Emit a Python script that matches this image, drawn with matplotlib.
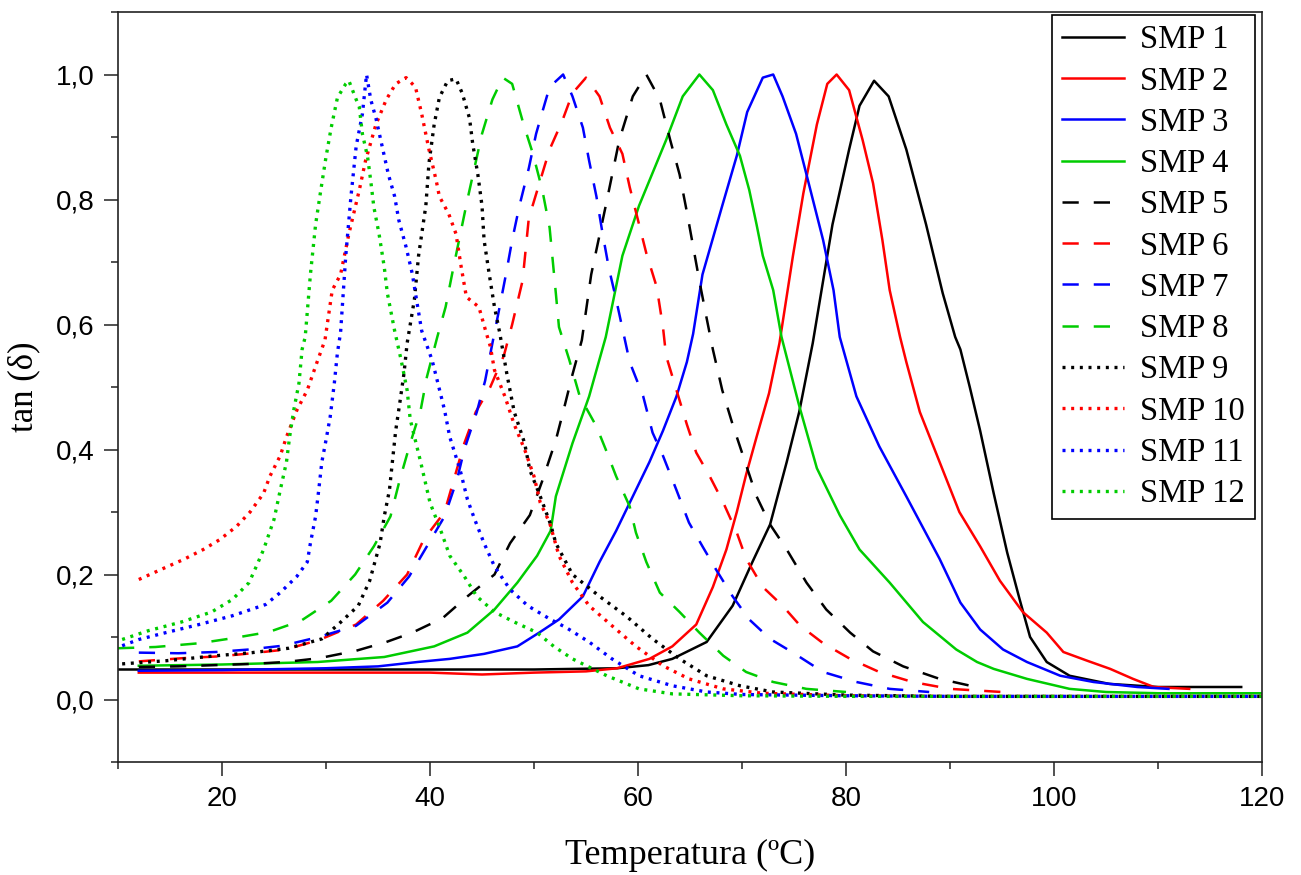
import matplotlib
matplotlib.use("Agg")
import matplotlib.pyplot as plt
from matplotlib.ticker import MultipleLocator, FuncFormatter

# ----------------
# Data (tan delta vs temperature)
# ----------------

smp1_x = [10, 20, 30, 40, 50, 58, 61, 63.3, 66.6, 69.1, 71, 72.7, 74.3, 75.5, 76.8, 78.7, 80.3, 81.3,
          82.7, 84.1, 85.8, 87.7, 89.3, 90.5, 91, 91.9, 92.9, 94.2, 95.5, 96.7, 97.7, 99.3, 101.5,
          105.3, 110, 118]
smp1_y = [0.048, 0.048, 0.048, 0.048, 0.048, 0.05, 0.055, 0.065, 0.092, 0.15, 0.22, 0.28, 0.38, 0.46,
          0.57, 0.76, 0.88, 0.95, 0.99, 0.965, 0.88, 0.76, 0.65, 0.58, 0.56, 0.5, 0.43, 0.33, 0.235,
          0.16, 0.1, 0.06, 0.038, 0.025, 0.02, 0.02]

smp2_x = [12, 20, 30, 40, 45, 50, 55, 58, 61.1, 63.3, 65.6, 67.2, 68.5, 69.5, 70.4, 71.4, 72.6, 73.6,
          74.9, 75.9, 77.2, 78.2, 79.1, 80.3, 81.6, 82.6, 83.5, 84.2, 85.2, 85.8, 87.1, 89, 90.9,
          92.9, 94.8, 97, 99.3, 100.9, 103.2, 105.4, 107.6, 109.6, 113]
smp2_y = [0.043, 0.043, 0.043, 0.043, 0.04, 0.043, 0.045, 0.05, 0.065, 0.085, 0.12, 0.18, 0.24, 0.3,
          0.36, 0.42, 0.49, 0.57, 0.71, 0.81, 0.92, 0.985, 1.0, 0.975, 0.895, 0.826, 0.735, 0.655,
          0.58, 0.54, 0.46, 0.38, 0.3, 0.245, 0.19, 0.14, 0.107, 0.076, 0.062, 0.049, 0.033, 0.02,
          0.017]

smp3_x = [12, 20, 30, 35, 38.8, 41.9, 45.2, 48.4, 50.5, 52.4, 54.7, 56.3, 57.9, 59.5, 61.1, 62.4,
          63.7, 64.7, 65.3, 66.2, 68.1, 69.5, 70.5, 72, 73, 73.9, 75.2, 76.2, 77.8, 78.8, 79.4, 81,
          83.2, 85.8, 89, 91, 92.9, 95.1, 97.4, 100.6, 103.8, 108, 111]
smp3_y = [0.046, 0.047, 0.05, 0.053, 0.06, 0.065, 0.073, 0.085, 0.107, 0.128, 0.165, 0.22, 0.27,
          0.325, 0.38, 0.43, 0.485, 0.54, 0.585, 0.68, 0.79, 0.87, 0.94, 0.995, 1.0, 0.965, 0.905,
          0.84, 0.735, 0.655, 0.58, 0.485, 0.405, 0.325, 0.225, 0.155, 0.112, 0.08, 0.06, 0.038,
          0.028, 0.02, 0.017]

smp4_x = [12, 20, 29.2, 35.6, 40.4, 43.6, 46.2, 48.4, 50.3, 51.6, 52.1, 53.7, 55.3, 56.9, 58.5,
          60.1, 62.7, 64.3, 65.9, 67.2, 68.5, 69.8, 70.7, 71.4, 72, 73, 73.8, 75.5, 77.2, 79.4, 81.3,
          84.2, 87.4, 90.6, 92.6, 94.2, 97.4, 101.5, 105, 110, 120]
smp4_y = [0.054, 0.056, 0.06, 0.068, 0.085, 0.107, 0.144, 0.187, 0.23, 0.27, 0.325, 0.41, 0.485,
          0.58, 0.71, 0.79, 0.895, 0.965, 1.0, 0.975, 0.92, 0.87, 0.815, 0.76, 0.71, 0.655, 0.58,
          0.47, 0.37, 0.295, 0.24, 0.187, 0.124, 0.08, 0.06, 0.049, 0.033, 0.017, 0.012, 0.01, 0.01]

smp5_x = [12, 15.8, 22.9, 26.1, 29.3, 32.9, 35.8, 38.3, 41.2, 43.6, 46.2, 47.7, 49.6, 50.8, 52.1,
          52.8, 53.7, 54.6, 55.5, 56.9, 58.2, 59.5, 60.8, 62.1, 63.1, 64, 64.7, 65.3, 65.9, 66.6,
          67.2, 68.1, 69.1, 70.1, 71.4, 72.7, 74.3, 76.2, 78.1, 80.4, 82.6, 85.5, 89, 92.5]
smp5_y = [0.052, 0.053, 0.057, 0.06, 0.066, 0.078, 0.092, 0.107, 0.13, 0.165, 0.2, 0.25, 0.295,
          0.35, 0.415, 0.46, 0.52, 0.575, 0.68, 0.79, 0.895, 0.965, 1.0, 0.96, 0.895, 0.84, 0.78,
          0.725, 0.67, 0.61, 0.56, 0.495, 0.44, 0.39, 0.325, 0.28, 0.24, 0.187, 0.144, 0.107,
          0.077, 0.053, 0.033, 0.02]

smp6_x = [12, 16.1, 19.7, 22.9, 26.1, 29.3, 32.9, 35.5, 37.8, 39.4, 41.4, 42.3, 43.3, 44.4, 45.8,
          47.1, 47.9, 48.9, 49.5, 50.5, 51.5, 52.7, 53.7, 55, 56.3, 57.3, 58.5, 59.2, 60.8, 61.8,
          62.4, 62.7, 63.7, 64.7, 65.6, 66.9, 68.2, 69.5, 70.4, 72, 73.9, 75.6, 77.8, 80.4, 83.2,
          86.4, 90, 95]
smp6_y = [0.061, 0.066, 0.069, 0.074, 0.08, 0.095, 0.12, 0.158, 0.2, 0.256, 0.3, 0.352, 0.41, 0.46,
          0.5, 0.55, 0.6, 0.67, 0.77, 0.825, 0.88, 0.925, 0.97, 0.995, 0.965, 0.915, 0.873, 0.82,
          0.714, 0.66, 0.596, 0.55, 0.495, 0.44, 0.395, 0.357, 0.315, 0.267, 0.225, 0.18, 0.15,
          0.118, 0.09, 0.065, 0.044, 0.028, 0.017, 0.012]

smp7_x = [12, 15.8, 19.4, 22.6, 25.8, 29.3, 32.9, 35.9, 38, 39.7, 41.4, 42.6, 43.3, 44.5, 45.3, 46,
          46.6, 47.3, 47.9, 48.6, 49.5, 50.2, 50.8, 51.5, 52.8, 53.7, 54.7, 55.3, 56, 56.6, 57.2,
          57.9, 59.2, 60.5, 61.4, 62.4, 63.7, 64.9, 66.2, 67.5, 69.1, 70.7, 72.7, 74.9, 77.8, 81,
          84.2, 88]
smp7_y = [0.075, 0.074, 0.076, 0.08, 0.086, 0.1, 0.118, 0.155, 0.197, 0.245, 0.293, 0.352, 0.4,
          0.46, 0.51, 0.57, 0.62, 0.68, 0.735, 0.79, 0.85, 0.905, 0.94, 0.98, 1.0, 0.965, 0.915,
          0.862, 0.805, 0.745, 0.69, 0.64, 0.54, 0.485, 0.427, 0.39, 0.335, 0.283, 0.245, 0.208,
          0.165, 0.128, 0.097, 0.075, 0.044, 0.028, 0.017, 0.012]

smp8_x = [10, 13.6, 17.8, 21, 24.5, 27.6, 30.5, 32.8, 34.6, 36.2, 37.1, 38.1, 39.1, 39.7, 40.7,
          41.5, 42.2, 43.6, 45, 46, 47, 47.9, 49, 49.9, 50.8, 51.5, 52.1, 52.4, 53.4, 54.4, 56,
          56.9, 57.9, 59.2, 59.8, 60.8, 62.1, 64, 65.9, 68.2, 70.4, 73, 76.2, 80]
smp8_y = [0.082, 0.084, 0.09, 0.098, 0.108, 0.126, 0.158, 0.2, 0.245, 0.293, 0.352, 0.41, 0.463,
          0.516, 0.58, 0.628, 0.687, 0.8, 0.905, 0.96, 0.995, 0.985, 0.92, 0.873, 0.815, 0.755,
          0.65, 0.596, 0.543, 0.485, 0.437, 0.4, 0.357, 0.309, 0.267, 0.22, 0.171, 0.14, 0.107,
          0.07, 0.044, 0.028, 0.017, 0.012]

smp9_x = [10.4, 14.6, 19.4, 22.9, 26.4, 29.6, 31.3, 33.1, 34.2, 35.2, 35.6, 36.1, 36.4, 36.7, 37.1,
          37.5, 37.8, 38.5, 38.9, 39.6, 39.9, 40.4, 40.9, 41.7, 42.5, 43.1, 43.8, 44.1, 44.6, 45,
          45.2, 45.7, 46.2, 46.7, 47.4, 48.1, 49.1, 49.6, 50.6, 51.6, 52.1, 53.7, 56.3, 58.9, 61.4,
          64, 66.6, 69.8, 73, 80, 90, 100, 110, 120]
smp9_y = [0.057, 0.062, 0.07, 0.075, 0.082, 0.097, 0.122, 0.15, 0.19, 0.25, 0.293, 0.335, 0.383,
          0.43, 0.475, 0.522, 0.57, 0.64, 0.71, 0.79, 0.858, 0.92, 0.963, 0.99, 0.993, 0.97, 0.93,
          0.89, 0.84, 0.79, 0.735, 0.68, 0.628, 0.587, 0.52, 0.46, 0.41, 0.367, 0.325, 0.28, 0.25,
          0.2, 0.165, 0.133, 0.097, 0.065, 0.038, 0.022, 0.012, 0.007, 0.005, 0.005, 0.005, 0.005]

smp10_x = [12, 14.4, 16.3, 18.2, 19.8, 21.4, 22.7, 24, 24.6, 25.6, 26.2, 27.2, 28.2, 29.1, 29.9,
           30.6, 31.4, 32.2, 33.2, 33.8, 34.8, 35.8, 36.7, 37.7, 38.6, 39.2, 39.9, 40.6, 40.9, 41.8,
           42.5, 43, 43.5, 44.7, 45.4, 45.8, 46.2, 47.2, 48.1, 49.1, 50, 50.6, 51.5, 52.4, 53.7,
           55.3, 57.5, 59.8, 62.4, 64.9, 68.2, 72, 80, 90, 100, 110, 120]
smp10_y = [0.192, 0.21, 0.224, 0.24, 0.256, 0.277, 0.3, 0.33, 0.357, 0.39, 0.42, 0.463, 0.495,
           0.538, 0.575, 0.655, 0.68, 0.745, 0.815, 0.862, 0.92, 0.96, 0.985, 0.995, 0.98, 0.937,
           0.88, 0.83, 0.805, 0.777, 0.745, 0.692, 0.644, 0.628, 0.587, 0.565, 0.527, 0.485, 0.44,
           0.4, 0.357, 0.315, 0.283, 0.23, 0.187, 0.15, 0.118, 0.085, 0.054, 0.033, 0.017, 0.01,
           0.006, 0.005, 0.005, 0.005, 0.005]

smp11_x = [10.4, 12, 14.6, 17.8, 21, 24.2, 25.6, 27.2, 28.2, 28.5, 29, 29.3, 29.6, 30, 30.4, 30.8,
           31.1, 31.4, 31.9, 32.4, 32.9, 33.5, 33.9, 34.3, 34.8, 35.4, 36, 36.6, 37, 37.7, 38.3,
           38.7, 39.2, 40.2, 40.7, 41.4, 41.9, 42.9, 43.6, 44.3, 45.2, 46.2, 47.7, 49.4, 51.6, 53.1,
           55.3, 57.5, 60.1, 63.3, 66.6, 70, 80, 90, 100, 110, 120]
smp11_y = [0.086, 0.096, 0.107, 0.12, 0.134, 0.152, 0.171, 0.197, 0.22, 0.25, 0.293, 0.335, 0.38,
           0.415, 0.452, 0.506, 0.555, 0.587, 0.71, 0.805, 0.885, 0.937, 1.0, 0.96, 0.93, 0.885,
           0.84, 0.805, 0.767, 0.724, 0.681, 0.64, 0.59, 0.543, 0.51, 0.463, 0.42, 0.367, 0.32,
           0.288, 0.25, 0.213, 0.176, 0.15, 0.128, 0.115, 0.092, 0.065, 0.038, 0.022, 0.012, 0.008,
           0.006, 0.005, 0.005, 0.005, 0.005]

smp12_x = [10.4, 12.9, 16.1, 19, 21, 22.6, 23.3, 24, 25, 25.6, 26.2, 26.5, 26.9, 27.4, 27.7, 28,
           28.5, 29, 29.5, 30, 30.5, 31.1, 31.9, 32.2, 32.9, 33.2, 33.5, 34, 34.3, 34.6, 35.1, 35.6,
           35.9, 36.6, 37.2, 37.8, 38.1, 39.1, 40, 41, 41.9, 43.3, 44.5, 46.2, 48.1, 50.3, 51.9,
           53.7, 57, 60.1, 63.3, 70, 80, 90, 100, 110, 120]
smp12_y = [0.096, 0.11, 0.124, 0.14, 0.16, 0.187, 0.213, 0.24, 0.288, 0.335, 0.38, 0.42, 0.463,
           0.506, 0.56, 0.58, 0.68, 0.76, 0.815, 0.868, 0.915, 0.963, 0.985, 0.99, 0.96, 0.948,
           0.905, 0.868, 0.83, 0.788, 0.745, 0.692, 0.65, 0.59, 0.545, 0.495, 0.448, 0.38, 0.315,
           0.272, 0.23, 0.197, 0.165, 0.14, 0.124, 0.107, 0.085, 0.065, 0.038, 0.017, 0.009, 0.006,
           0.005, 0.005, 0.005, 0.005, 0.005]

labels = [f"SMP {i}" for i in range(1, 13)]
series_x = [smp1_x, smp2_x, smp3_x, smp4_x, smp5_x, smp6_x, smp7_x, smp8_x,
            smp9_x, smp10_x, smp11_x, smp12_x]
series_y = [smp1_y, smp2_y, smp3_y, smp4_y, smp5_y, smp6_y, smp7_y, smp8_y,
            smp9_y, smp10_y, smp11_y, smp12_y]

# ----------------
# Styles
# ----------------

colors = ["#000000", "#ff0000", "#0000ff", "#00cc00"] * 3
styles = ["solid"] * 4 + ["dashed"] * 4 + ["dotted"] * 4
line_widths = {"solid": 1.8, "dashed": 1.8, "dotted": 2.4}
dash_patterns = {"dashed": (6.5, 6.0), "dotted": (0.9, 1.7)}

sans = ["Liberation Sans", "DejaVu Sans"]
serif = ["Liberation Serif", "DejaVu Serif"]

fig = plt.figure(figsize=(13.01, 8.75), dpi=100)
ax = fig.add_axes([118 / 1301, 1 - 762 / 875, 1144 / 1301, 750 / 875])

for x, y, label, color, style in zip(series_x, series_y, labels, colors, styles):
    (line,) = ax.plot(x, y, color=color, linewidth=line_widths[style], label=label)
    if style in dash_patterns:
        line.set_dashes(dash_patterns[style])

# ---- Axes
ax.set_xlim(10, 120)
ax.set_ylim(-0.1, 1.1)
ax.xaxis.set_major_locator(MultipleLocator(20))
ax.xaxis.set_minor_locator(MultipleLocator(10))
ax.yaxis.set_major_locator(MultipleLocator(0.2))
ax.yaxis.set_minor_locator(MultipleLocator(0.1))
ax.xaxis.set_major_formatter(FuncFormatter(lambda v, p: f"{v:.0f}" if v >= 20 else ""))
ax.yaxis.set_major_formatter(FuncFormatter(lambda v, p: f"{v:.1f}".replace(".", ",").replace("-0,0", "0,0")))

ax.tick_params(which="both", direction="out", top=False, right=False, width=1.1, color="#222222")
ax.tick_params(which="major", length=10, labelsize=20, pad=7)
ax.tick_params(which="minor", length=5)
for lbl in ax.get_xticklabels() + ax.get_yticklabels():
    lbl.set_family(sans)
for spine in ax.spines.values():
    spine.set_linewidth(1.2)
    spine.set_color("#222222")

ax.set_xlabel("Temperatura (ºC)", fontsize=26, family=serif, labelpad=20)
ax.set_ylabel("tan (δ)", fontsize=25, family=serif, labelpad=11)

# ---- Legend
leg = ax.legend(
    loc="upper right",
    bbox_to_anchor=(1 - 7 / 1144, 1 - 3 / 750),
    borderaxespad=0,
    prop=dict(family=serif, size=23.5),
    frameon=True,
    fancybox=False,
    edgecolor="black",
    framealpha=1,
    handlelength=1.9,
    handletextpad=0.5,
    labelspacing=0.33,
    borderpad=0.3,
)
leg.get_frame().set_linewidth(1.2)

fig.savefig("out.png", dpi=100)
